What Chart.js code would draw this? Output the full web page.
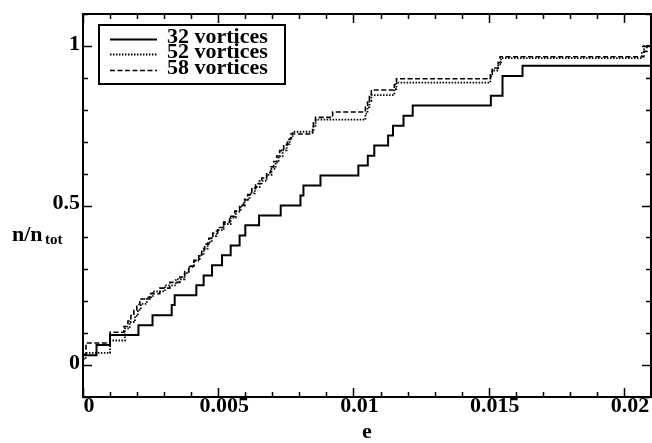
<!DOCTYPE html>
<html>
<head>
<meta charset="utf-8">
<script src="https://cdn.jsdelivr.net/npm/chart.js@4.4.1/dist/chart.umd.min.js"></script>
<style>
    html, body { margin: 0; padding: 0; background: #ffffff; }
    #wrap { position: relative; width: 652px; height: 443px; }
</style>
</head>
<body>
<div id="wrap"><canvas id="chart" width="652" height="443"></canvas></div>
<script>
const xTicks = [0, 0.005, 0.01, 0.015, 0.02];
const xTickLabels = ["0", "0.005", "0.01", "0.015", "0.02"];
const yTicks = [0, 0.5, 1];
const yTickLabels = ["0", "0.5", "1"];
const seriesNames = ["32 vortices", "52 vortices", "58 vortices"];

// 32 vortices (solid)
const e32 = [0, 0.0005, 0.001, 0.00205, 0.00257, 0.00328, 0.00339, 0.00419, 0.00446, 0.00477,
    0.00514, 0.00546, 0.00579, 0.006, 0.00651, 0.00731, 0.00804, 0.00815, 0.00878, 0.01018,
    0.01053, 0.01077, 0.01128, 0.01146, 0.01185, 0.01219, 0.01508, 0.01551, 0.01625, 0.021];
const n32 = [0.031, 0.063, 0.094, 0.125, 0.156, 0.188, 0.219, 0.25, 0.281, 0.313,
    0.344, 0.375, 0.406, 0.438, 0.469, 0.5, 0.531, 0.563, 0.594, 0.625,
    0.656, 0.688, 0.719, 0.75, 0.781, 0.813, 0.844, 0.906, 0.938, 0.938];

// 52 vortices (dotted)
const e52 = [0, 0.0001, 0.001, 0.00155, 0.00173, 0.00192, 0.00203, 0.00214, 0.00236, 0.00258,
    0.00303, 0.00343, 0.00376, 0.00391, 0.0041, 0.00432, 0.00446, 0.00461, 0.00476, 0.00494,
    0.0052, 0.00546, 0.00565, 0.00583, 0.00598, 0.00616, 0.00635, 0.00653, 0.00679, 0.00697,
    0.00712, 0.00723, 0.00738, 0.00753, 0.00764, 0.00775, 0.00852, 0.0086, 0.01044, 0.01052,
    0.01059, 0.01066, 0.01151, 0.01159, 0.01506, 0.01513, 0.01535, 0.01546, 0.02066, 0.02074, 0.021];
const n52 = [0.019, 0.038, 0.077, 0.115, 0.135, 0.154, 0.173, 0.192, 0.212, 0.231,
    0.25, 0.269, 0.288, 0.308, 0.327, 0.346, 0.365, 0.385, 0.404, 0.423,
    0.442, 0.462, 0.481, 0.5, 0.519, 0.538, 0.558, 0.577, 0.596, 0.615,
    0.635, 0.654, 0.673, 0.692, 0.712, 0.731, 0.75, 0.769, 0.788, 0.808,
    0.827, 0.846, 0.865, 0.885, 0.904, 0.923, 0.942, 0.962, 0.981, 1.0, 1.0];

// 58 vortices (dashed)
const e58 = [0, 0.00011, 0.001, 0.00151, 0.00166, 0.00177, 0.00188, 0.00199, 0.0021, 0.00247,
    0.00284, 0.00321, 0.00358, 0.00376, 0.00391, 0.0041, 0.00428, 0.00439, 0.0045, 0.00465,
    0.0048, 0.00498, 0.0052, 0.00542, 0.00561, 0.00579, 0.00594, 0.00609, 0.00624, 0.00638,
    0.00661, 0.00679, 0.00694, 0.00705, 0.00716, 0.00727, 0.00742, 0.00756, 0.00768, 0.00849,
    0.00852, 0.0086, 0.00923, 0.01044, 0.01052, 0.01059, 0.01066, 0.01151, 0.01159, 0.01506,
    0.01513, 0.01535, 0.01542, 0.02074, 0.02085, 0.021];
const n58 = [0.034, 0.069, 0.103, 0.121, 0.138, 0.155, 0.172, 0.19, 0.207, 0.224,
    0.241, 0.259, 0.276, 0.293, 0.31, 0.328, 0.345, 0.362, 0.379, 0.397,
    0.414, 0.431, 0.448, 0.466, 0.483, 0.5, 0.517, 0.534, 0.552, 0.569,
    0.586, 0.603, 0.621, 0.638, 0.655, 0.672, 0.69, 0.707, 0.724, 0.741,
    0.759, 0.776, 0.793, 0.81, 0.828, 0.845, 0.862, 0.879, 0.897, 0.914,
    0.931, 0.948, 0.966, 0.983, 1.0, 1.0];

const serif = "'Liberation Serif', 'Times New Roman', serif";
const lineStyles = [
    { width: 2, dash: [] },
    { width: 1.8, dash: [1.5, 1.5] },
    { width: 1.6, dash: [5, 2.5] }
];

function toPoints(xs, ys) {
    return xs.map((x, i) => ({ x, y: ys[i] }));
}

function makeDataset(label, xs, ys, style) {
    return {
        label,
        data: toPoints(xs, ys),
        borderColor: "#000000",
        borderWidth: style.width,
        borderDash: style.dash,
        pointRadius: 0,
        stepped: "before",
        fill: false
    };
}

// frame, inward ticks, legend box and axis titles
const decorations = {
    id: "decorations",
    afterDraw(chart) {
        const { ctx, chartArea: area, scales: { x, y } } = chart;
        ctx.save();
        ctx.strokeStyle = "#000000";
        ctx.lineWidth = 2;
        ctx.setLineDash([]);
        ctx.strokeRect(area.left, area.top, area.right - area.left, area.bottom - area.top);

        ctx.lineWidth = 1.5;
        ctx.beginPath();
        for (let i = 0; i <= 21; i++) {
            const v = i * 0.001;
            const px = Math.round(x.getPixelForValue(v)) + 0.5;
            const len = i % 5 === 0 ? 9 : 5;
            ctx.moveTo(px, area.bottom); ctx.lineTo(px, area.bottom - len);
            ctx.moveTo(px, area.top); ctx.lineTo(px, area.top + len);
        }
        for (let i = -1; i <= 11; i++) {
            const v = i * 0.1;
            const py = Math.round(y.getPixelForValue(v)) + 0.5;
            const len = i % 5 === 0 ? 9 : 5;
            ctx.moveTo(area.left, py); ctx.lineTo(area.left + len, py);
            ctx.moveTo(area.right, py); ctx.lineTo(area.right - len, py);
        }
        ctx.stroke();

        // legend
        ctx.lineWidth = 2;
        ctx.strokeRect(99, 25, 186, 59);
        const rows = [39, 54, 70];
        ctx.font = "bold 22px " + serif;
        ctx.fillStyle = "#000000";
        ctx.textBaseline = "alphabetic";
        ctx.textAlign = "left";
        seriesNames.forEach((name, i) => {
            ctx.lineWidth = lineStyles[i].width;
            ctx.setLineDash(lineStyles[i].dash);
            ctx.beginPath();
            ctx.moveTo(110, rows[i] + 0.5);
            ctx.lineTo(157, rows[i] + 0.5);
            ctx.stroke();
            ctx.setLineDash([]);
            ctx.fillText(name, 167, rows[i] + 4);
        });

        // axis titles
        ctx.textAlign = "center";
        ctx.fillText("e", (area.left + area.right) / 2, 438);
        ctx.textAlign = "left";
        ctx.fillText("n/n", 12, 241);
        ctx.font = "bold 15px " + serif;
        ctx.fillText("tot", 45, 244);
        ctx.restore();
    }
};

new Chart(document.getElementById("chart"), {
    type: "line",
    data: {
        datasets: [
            makeDataset(seriesNames[0], e32, n32, lineStyles[0]),
            makeDataset(seriesNames[1], e52, n52, lineStyles[1]),
            makeDataset(seriesNames[2], e58, n58, lineStyles[2])
        ]
    },
    options: {
        responsive: false,
        animation: false,
        layout: { padding: { top: 9, right: 1, left: 0, bottom: 0 } },
        plugins: { legend: { display: false }, tooltip: { enabled: false } },
        scales: {
            x: {
                type: "linear",
                min: 0,
                max: 0.021,
                afterBuildTicks: (scale) => { scale.ticks = xTicks.map((value) => ({ value })); },
                afterFit: (scale) => { scale.height = 46; },
                grid: { display: false, drawTicks: false },
                border: { display: false },
                ticks: {
                    color: "#000000",
                    font: { family: serif, size: 22, weight: "bold", lineHeight: 1 },
                    padding: -2,
                    labelOffset: 6,
                    maxRotation: 0,
                    autoSkip: false,
                    callback: (value, index) => xTickLabels[index]
                }
            },
            y: {
                type: "linear",
                min: -0.1,
                max: 1.1,
                afterBuildTicks: (scale) => { scale.ticks = yTicks.map((value) => ({ value })); },
                afterFit: (scale) => { scale.width = 83; },
                grid: { display: false, drawTicks: false },
                border: { display: false },
                ticks: {
                    color: "#000000",
                    font: { family: serif, size: 22, weight: "bold", lineHeight: 1 },
                    padding: 3,
                    labelOffset: -2,
                    autoSkip: false,
                    callback: (value, index) => yTickLabels[index]
                }
            }
        }
    },
    plugins: [decorations]
});
</script>
</body>
</html>
